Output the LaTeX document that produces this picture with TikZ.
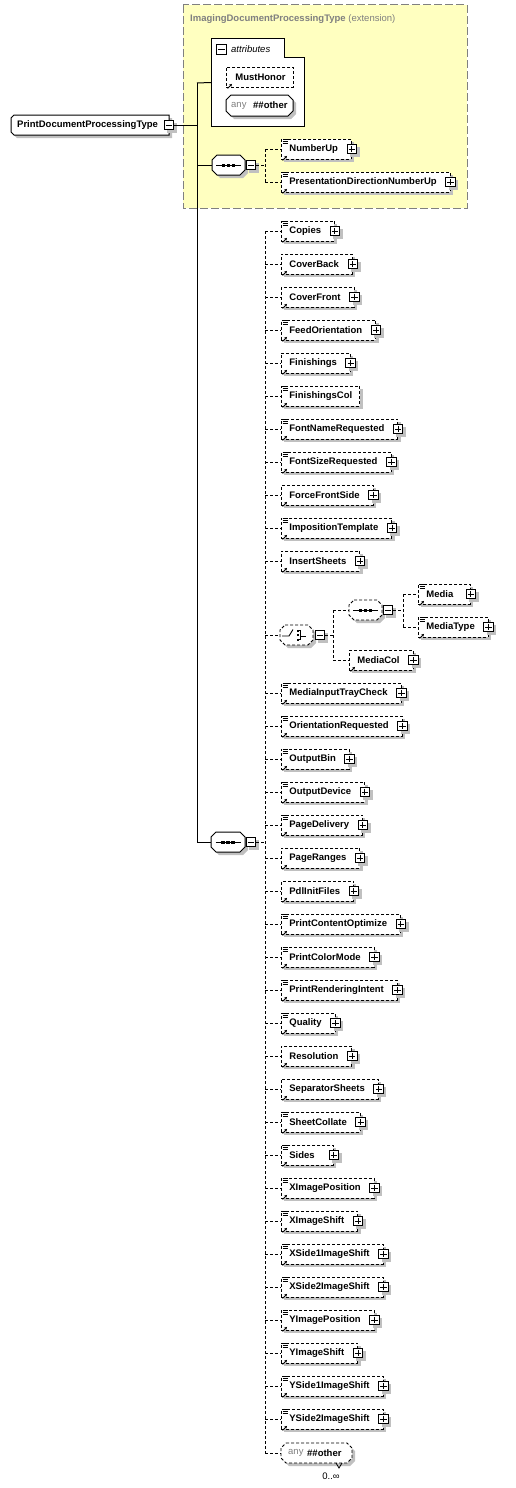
\documentclass[tikz,border=0pt]{standalone}
\usepackage{fontspec}
\setmainfont{Liberation Sans}
\usetikzlibrary{shadows,calc,arrows.meta}
\definecolor{yel}{RGB}{255,255,192}
\definecolor{shdc}{RGB}{192,192,192}
\definecolor{gtxt}{RGB}{128,128,128}
\newdimen\elW
\newcommand\efont{\bfseries\fontsize{9.5}{11}\selectfont}
\newcommand\rfont{\fontsize{9.5}{11}\selectfont}
\tikzset{
  x=1pt,y=-1pt,
  dl/.style={dash pattern=on 3pt off 2pt, line width=0.8pt},
  sl/.style={line width=1pt},
  shdw/.style={drop shadow={shadow xshift=3pt,shadow yshift=-3pt,fill=shdc,opacity=1}},
  ebox/.style={draw, dl, fill=white, shdw, inner sep=0pt, minimum height=20pt, anchor=west},
  pmbox/.style={draw, line width=1pt, fill=white, shdw, minimum size=9.5pt, inner sep=0pt},
  lbl/.style={inner sep=0pt, anchor=west, font=\efont},
}
% element: name, text, x, y, list flag, plus flag
\newcommand\elem[6]{%
  \node[inner sep=0pt, anchor=west] (#1w) at (#3+8,#4) {\phantom{\efont #2}};
  \pgfextractx{\elW}{\pgfpointanchor{#1w}{east}}\relax
  \advance\elW by -#3pt\relax
  \ifnum#6=1 \advance\elW by 13pt\relax \else \advance\elW by 7pt\relax \fi
  \ifdim\elW<52pt\relax \elW=52pt\relax \fi
  \node[ebox, minimum width=\elW] (#1) at (#3,#4) {\makebox[\elW][l]{\hspace{8pt}\efont #2}};
  \ifnum#5=1 \foreach \k in {0.6,2.6,4.6}{\draw[line width=0.7pt] ($(#1.north west)+(1.5,\k)$) -- +(5.5,0);}\fi
  \draw[-{Stealth[length=2.8pt,width=3pt]}, line width=0.9pt] ($(#1.south west)+(1.5,1)$) -- +(4.5,-4.5);
  \ifnum#6=1 \node[pmbox] (#1p) at (#1.east) {};
    \draw[line width=1pt] ($(#1p.center)+(-3.2,0)$) -- +(6.4,0) ($(#1p.center)+(0,-3.2)$) -- +(0,6.4);\fi
}
% octagon: [style] name x1 y1 x2 y2 chamfer
\newcommand\octa[7][]{%
  \begin{scope}[shift={(3,3)}]
    \fill[shdc] (#3+#7,#4) -- (#5-#7,#4) -- (#5,#4+#7) -- (#5,#6-#7) -- (#5-#7,#6) -- (#3+#7,#6) -- (#3,#6-#7) -- (#3,#4+#7) -- cycle;
  \end{scope}
  \draw[fill=white,#1] (#3+#7,#4) -- (#5-#7,#4) -- (#5,#4+#7) -- (#5,#6-#7) -- (#5-#7,#6) -- (#3+#7,#6) -- (#3,#6-#7) -- (#3,#4+#7) -- cycle;
  \node[inner sep=0pt, minimum width={#5-#3}, minimum height={#6-#4}] (#2) at ({(#3+#5)/2},{(#4+#6)/2}) {};
}
\newcommand\minusb[3]{%
  \node[pmbox] (#1) at (#2,#3) {};
  \draw[line width=1pt] ($(#1.center)+(-3.2,0)$) -- +(6.4,0);
}
\newcommand\seqicon[1]{%
  \draw[line width=0.9pt] ($(#1.center)+(-12.5,0)$) -- +(25,0);
  \foreach \d in {-5,0,5}{\fill ($(#1.center)+(\d-1.8,-1.5)$) rectangle +(3.6,3);}
}
\begin{document}
\begin{tikzpicture}
\useasboundingbox (0,0) rectangle (515,1488);
% extension area
\draw[fill=yel, draw=gtxt, dash pattern=on 8pt off 3pt, line width=1pt] (183,5) rectangle (467,208);
\node[inner sep=0pt, anchor=west, text=gtxt] (exttitle) at (190,19) {\efont ImagingDocumentProcessingType \mdseries(extension)};
% attributes box
\draw[fill=white, line width=1pt] (211,126) -- (211,39) -- (284,39) -- (284,58) -- (304,58) -- (304,126) -- cycle;
\node[inner sep=0pt, minimum width=93pt, minimum height=87pt] (attr) at (257.5,82.5) {};
\node[draw, line width=1pt, fill=white, minimum size=9.5pt, inner sep=0pt] (attrm) at (221.5,49.5) {};
\draw[line width=1pt] ($(attrm.center)+(-3.2,0)$) -- +(6.4,0);
\node[inner sep=0pt, anchor=west] (attrlbl) at (231,49) {\rfont\itshape attributes};
\node[draw, dl, fill=white, minimum width=67pt, minimum height=20pt, inner sep=0pt, anchor=west] (MustHonor) at (226,77) {\makebox[67pt][l]{\hspace{9pt}\efont MustHonor}};
\draw[-{Stealth[length=2.8pt,width=3pt]}, line width=0.9pt] ($(MustHonor.south west)+(1.5,1)$) -- +(4.5,-4.5);
\octa[line width=1pt]{anyattr}{226}{95}{293}{116}{5}
\node[inner sep=0pt, anchor=west, text=gtxt] (anyattrA) at (231,105.5) {\rfont any};
\node[lbl] (anyattrB) at (253,105.5) {\#\#other};
% root
\begin{scope}[shift={(3,3)}]
  \fill[shdc] (14,115) -- (169,115) -- (169,135) -- (14,135) -- (11,132) -- (11,118) -- cycle;
\end{scope}
\draw[fill=white, line width=1pt] (14,115) -- (169,115) -- (169,135) -- (14,135) -- (11,132) -- (11,118) -- cycle;
\node[inner sep=0pt, minimum width=158pt, minimum height=20pt] (root) at (90,125) {};
\node[lbl] (rootlbl) at (17,125) {PrintDocumentProcessingType};
\minusb{rootm}{169}{125}
% main bus
\coordinate (bus1) at (197,83);
\coordinate (bus2) at (197,842);
\draw[sl] (rootm.east) -- (rootm.east -| bus1);
\draw[sl] (bus1) -- (bus2);
\draw[sl] (bus1) -- (attr.west);
% sequence 1
\octa[line width=1pt]{seq1}{212}{155}{245}{175}{5}
\seqicon{seq1}
\draw[sl] (seq1.west -| bus1) -- (seq1.west);
\minusb{seq1m}{251}{165}
\coordinate (b3t) at (265,149);
\coordinate (b3b) at (265,182);
\draw[dl] (seq1m.east) -- (seq1m.east -| b3t);
\draw[dl] (b3t) -- (b3b);
\elem{NumberUp}{NumberUp}{281}{149}{1}{1}
\elem{PDNU}{PresentationDirectionNumberUp}{281}{182}{1}{1}
\draw[dl] (NumberUp.west -| b3t) -- (NumberUp.west);
\draw[dl] (PDNU.west -| b3t) -- (PDNU.west);
% sequence 2
\octa[line width=1pt]{seq2}{211}{832}{245}{852}{5}
\seqicon{seq2}
\draw[sl] (bus2) -- (seq2.west);
\minusb{seq2m}{251}{842}
\coordinate (b4t) at (265,231);
\coordinate (b4b) at (265,1453);
\draw[dl] (seq2m.east) -- (seq2m.east -| b4t);
\draw[dl] (b4t) -- (b4b);
\foreach \n/\t/\y/\l/\p in {
 Copies/Copies/231/1/1, CoverBack/CoverBack/264/0/1, CoverFront/CoverFront/297/0/1,
 FeedOrientation/FeedOrientation/330/1/1, Finishings/Finishings/363/0/1,
 FinishingsCol/FinishingsCol/396/1/0, FontNameRequested/FontNameRequested/429/1/1,
 FontSizeRequested/FontSizeRequested/462/1/1, ForceFrontSide/ForceFrontSide/495/0/1,
 ImpositionTemplate/ImpositionTemplate/528/1/1, InsertSheets/InsertSheets/561/0/1,
 MediaInputTrayCheck/MediaInputTrayCheck/693/1/1, OrientationRequested/OrientationRequested/726/1/1,
 OutputBin/OutputBin/759/1/1, OutputDevice/OutputDevice/792/1/1, PageDelivery/PageDelivery/825/1/1,
 PageRanges/PageRanges/858/0/1, PdlInitFiles/PdlInitFiles/891/0/1,
 PrintContentOptimize/PrintContentOptimize/924/1/1, PrintColorMode/PrintColorMode/957/1/1,
 PrintRenderingIntent/PrintRenderingIntent/990/1/1, Quality/Quality/1023/1/1,
 Resolution/Resolution/1056/0/1, SeparatorSheets/SeparatorSheets/1089/0/1,
 SheetCollate/SheetCollate/1122/1/1, Sides/Sides/1155/1/1, XImagePosition/XImagePosition/1188/1/1,
 XImageShift/XImageShift/1221/1/1, XSide1ImageShift/XSide1ImageShift/1254/1/1,
 XSide2ImageShift/XSide2ImageShift/1287/1/1, YImagePosition/YImagePosition/1320/1/1,
 YImageShift/YImageShift/1353/1/1, YSide1ImageShift/YSide1ImageShift/1386/1/1,
 YSide2ImageShift/YSide2ImageShift/1419/1/1}{
  \elem{\n}{\t}{281}{\y}{\l}{\p}
  \draw[dl] (\n.west -| b4t) -- (\n.west);
}
% choice
\octa[dl]{choice}{280}{625}{313}{645}{5}
\draw[dl] (choice.west -| b4t) -- (choice.west);
\draw[line width=0.9pt] ($(choice.center)+(-14.5,1)$) -- ($(choice.center)+(-7.5,1)$) -- ($(choice.center)+(-3.5,-5.5)$);
\foreach \d in {-5.5,-1,3.5}{\fill ($(choice.center)+(0,\d)$) rectangle +(2.6,2.2);}
\draw[line width=0.9pt] ($(choice.center)+(2.6,-4.4)$) -- ($(choice.center)+(4.2,-4.4)$) -- ($(choice.center)+(4.2,4.6)$) -- ($(choice.center)+(2.6,4.6)$)
  ($(choice.center)+(4.2,1)$) -- ($(choice.center)+(9,1)$);
\minusb{choicem}{320}{635}
\coordinate (b5t) at (333,610);
\coordinate (b5b) at (333,660);
\draw[dl] (choicem.east) -- (choicem.east -| b5t);
\draw[dl] (b5t) -- (b5b);
\octa[dl]{seq3}{349}{600}{382}{620}{5}
\seqicon{seq3}
\draw[dl] (b5t) -- (seq3.west);
\minusb{seq3m}{388}{610}
\coordinate (b6t) at (403,594);
\coordinate (b6b) at (403,627);
\draw[dl] (seq3m.east) -- (seq3m.east -| b6t);
\draw[dl] (b6t) -- (b6b);
\elem{Media}{Media}{418}{594}{1}{1}
\elem{MediaType}{MediaType}{418}{627}{1}{1}
\elem{MediaCol}{MediaCol}{349}{660}{0}{1}
\draw[dl] (Media.west -| b6t) -- (Media.west);
\draw[dl] (MediaType.west -| b6t) -- (MediaType.west);
\draw[dl] (b5b) -- (MediaCol.west);
% any element
\octa[dl]{anyel}{281}{1443}{352}{1463}{5}
\draw[dl] (b4b) -- (anyel.west);
\node[inner sep=0pt, anchor=west, text=gtxt] (anyelA) at (288,1453) {\rfont any};
\node[lbl] (anyelB) at (307,1453) {\#\#other};
\draw[line width=0.8pt] (336,1463) -- (339,1468) -- (342,1463);
\node[inner sep=0pt] (mult) at (331,1476) {\rfont 0..∞};
\end{tikzpicture}
\end{document}
